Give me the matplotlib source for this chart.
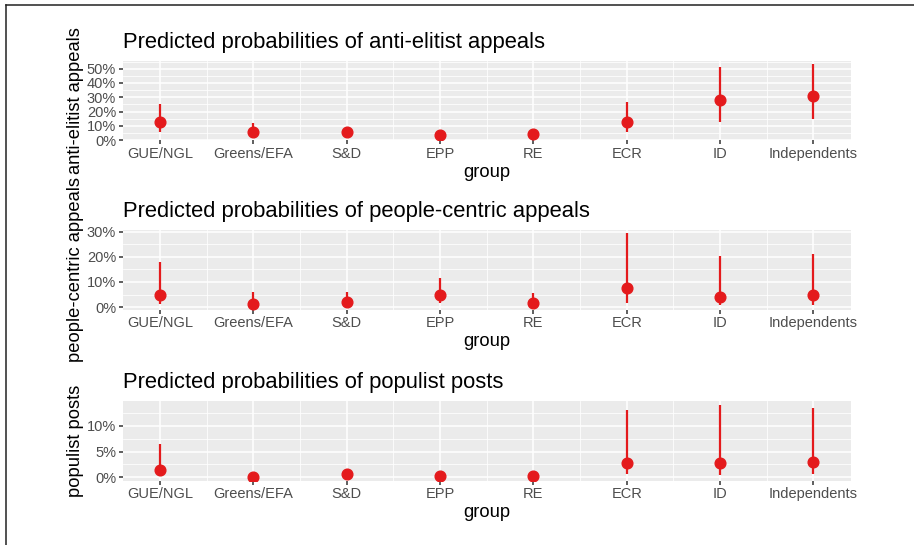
import matplotlib
matplotlib.use("Agg")
import matplotlib.pyplot as plt
import numpy as np
from matplotlib.ticker import PercentFormatter
from matplotlib.lines import Line2D

plt.rcParams['font.family'] = ['Liberation Sans', 'DejaVu Sans']

groups = ["GUE/NGL", "Greens/EFA", "S&D", "EPP", "RE", "ECR", "ID", "Independents"]

# predicted probabilities (%) with lower / upper bounds
anti_est = [13.0, 5.7, 5.7, 3.5, 4.2, 13.0, 27.9, 30.9]
anti_lo = [5.9, 3.0, 4.0, 2.4, 3.0, 5.9, 12.5, 14.9]
anti_hi = [25.0, 11.8, 7.5, 5.0, 5.6, 26.7, 51.3, 53.2]

ppl_est = [4.8, 1.4, 2.2, 4.8, 1.8, 7.6, 4.0, 4.8]
ppl_lo = [1.2, 0.5, 0.8, 1.8, 0.6, 1.6, 0.8, 0.9]
ppl_hi = [18.1, 5.9, 6.0, 11.4, 5.5, 29.3, 20.2, 21.1]

pop_est = [1.4, 0.1, 0.65, 0.3, 0.25, 2.8, 2.8, 3.0]
pop_lo = [0.3, 0.0, 0.2, 0.1, 0.05, 0.6, 0.5, 0.6]
pop_hi = [6.4, 0.5, 1.5, 0.7, 0.6, 13.2, 14.2, 13.6]

panels = [
    ("Predicted probabilities of anti-elitist appeals", "anti-elitist appeals",
     anti_est, anti_lo, anti_hi, 10),
    ("Predicted probabilities of people-centric appeals", "people-centric appeals",
     ppl_est, ppl_lo, ppl_hi, 10),
    ("Predicted probabilities of populist posts", "populist posts",
     pop_est, pop_lo, pop_hi, 5),
]

W, H = 914, 545
fig = plt.figure(figsize=(W / 100, H / 100), dpi=100)

left = 122.7 / W
width = (850.7 - 122.7) / W
bottoms = [140.3, 309.5, 480.7]
ph = 79.8

red = "#e41a1c"
x = np.arange(len(groups))

for (title, ylab, est, lo, hi, step), b in zip(panels, bottoms):
    ax = fig.add_axes([left, 1 - b / H, width, ph / H])
    ax.set_facecolor("#ebebeb")
    for s in ax.spines.values():
        s.set_visible(False)

    ymin, ymax = min(lo), max(hi)
    r = ymax - ymin
    ax.set_ylim(ymin - 0.05 * r, ymax + 0.05 * r)
    ax.set_xlim(-0.4, len(groups) - 0.6)

    top = ax.get_ylim()[1]
    ax.set_yticks(np.arange(0, top, step))
    ax.set_yticks(np.arange(step / 2, top, step), minor=True)
    ax.set_xticks(x)
    ax.set_xticks(x[:-1] + 0.5, minor=True)
    ax.set_xticklabels(groups)
    ax.yaxis.set_major_formatter(PercentFormatter(decimals=0))

    ax.grid(which="major", color="white", lw=1.1)
    ax.grid(which="minor", color="white", lw=0.55)
    ax.set_axisbelow(True)
    ax.tick_params(which="major", length=3, width=1.1, color="#333333",
                   labelsize=10.5, labelcolor="#4d4d4d", pad=1.8)
    ax.tick_params(which="minor", length=0)

    ax.vlines(x, lo, hi, color=red, lw=1.6, zorder=3)
    ax.plot(x, est, "o", color=red, ms=7.7, zorder=4)

    ax.set_title(title, loc="left", fontsize=15.8, pad=9)
    ax.set_xlabel("group", fontsize=13.2, labelpad=2)
    ax.set_ylabel(ylab, fontsize=13.2, labelpad=2)

# partial frame (top and left edges)
fig.add_artist(Line2D([5.5 / W, 1], [1 - 4.5 / H, 1 - 4.5 / H], color="#222222", lw=1.1))
fig.add_artist(Line2D([5.5 / W, 5.5 / W], [0, 1 - 4.5 / H], color="#222222", lw=1.1))

fig.savefig("out.png", dpi=100)
